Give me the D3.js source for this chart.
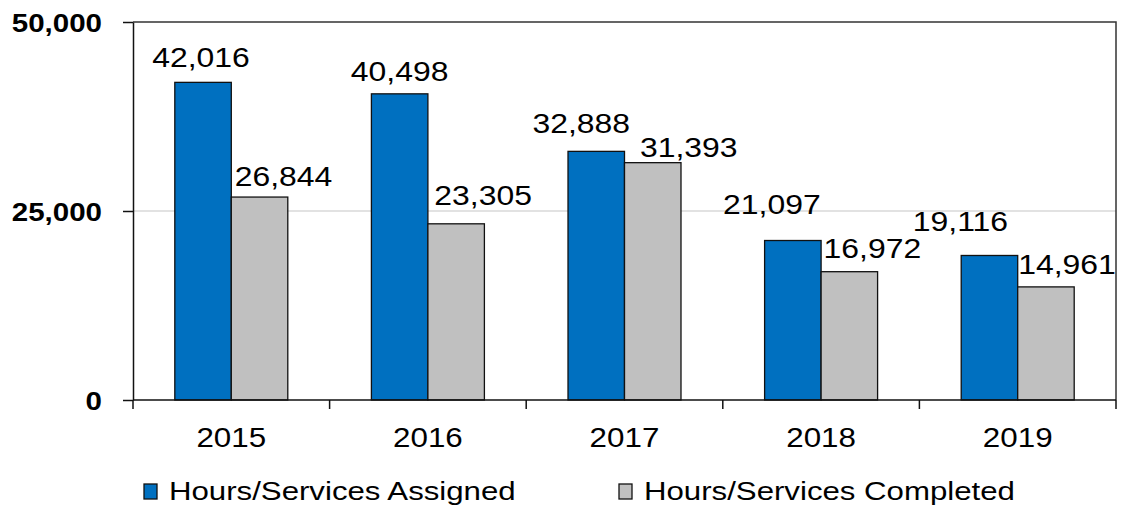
<!DOCTYPE html>
<html>
<head>
<meta charset="utf-8">
<script src="https://cdn.jsdelivr.net/npm/d3@7"></script>
<style>
  html, body { margin: 0; padding: 0; background: #fff; }
  svg { display: block; font-family: "Liberation Sans", Arial, sans-serif; }
</style>
</head>
<body>
<svg id="chart" width="1122" height="507"></svg>
<script>
// Yearly hours/services
const years = ["2015", "2016", "2017", "2018", "2019"];
const assigned = [42016, 40498, 32888, 21097, 19116];
const completed = [26844, 23305, 31393, 16972, 14961];
const seriesNames = ["Hours/Services Assigned", "Hours/Services Completed"];
const yTicks = [0, 25000, 50000];

// Label nudges (dx, dy from bar-top centre) so neighbouring labels don't collide
const assignedLabelDx = [-2, 0, -15, -21, -29];
const assignedLabelDy = [-25, -23, -28, -37, -35];
const completedLabelDx = [24, 27, 36, 23, 21];
const completedLabelDy = [-21, -29, -16, -24, -23];

const colors = ["#0070C0", "#C0C0C0"];

const svg = d3.select("#chart");
const margin = { left: 133, right: 1116, top: 22, bottom: 400 };

const x0 = d3.scaleBand().domain(years).range([margin.left, margin.right]).padding(0);
const x1 = d3.scaleBand().domain([0, 1]).range([0, x0.bandwidth()])
  .paddingInner(0).paddingOuter(0.74);
const y = d3.scaleLinear().domain([0, 50000]).range([margin.bottom, margin.top]);

const fmt = d3.format(",");

// Gridline at 25,000
svg.append("g")
  .selectAll("line")
  .data(yTicks.filter(t => t > 0 && t < 50000))
  .join("line")
  .attr("x1", margin.left).attr("x2", margin.right)
  .attr("y1", d => y(d)).attr("y2", d => y(d))
  .attr("stroke", "#d9d9d9").attr("stroke-width", 1.3);

// Plot frame (top and right)
svg.append("path")
  .attr("d", `M${margin.left},${margin.top}H${margin.right}V${margin.bottom}`)
  .attr("fill", "none").attr("stroke", "#333").attr("stroke-width", 1.5);

// Bars
const rows = years.map((yr, i) => ({ yr, vals: [assigned[i], completed[i]] }));
const groups = svg.append("g").selectAll("g")
  .data(rows).join("g")
  .attr("transform", d => `translate(${x0(d.yr)},0)`);

groups.selectAll("rect")
  .data(d => d.vals.map((v, k) => ({ v, k })))
  .join("rect")
  .attr("x", d => x1(d.k))
  .attr("width", x1.bandwidth())
  .attr("y", d => y(d.v))
  .attr("height", d => y(0) - y(d.v))
  .attr("fill", d => colors[d.k])
  .attr("stroke", "#111").attr("stroke-width", 1.3);

// Y axis
const yAxis = svg.append("g")
  .attr("transform", `translate(${margin.left},0)`)
  .call(d3.axisLeft(y).tickValues(yTicks).tickSize(10).tickSizeOuter(0).tickFormat(() => ""));
yAxis.selectAll("path, line").attr("stroke", "#111").attr("stroke-width", 1.5);

// X axis with category-boundary ticks
const xAxis = svg.append("g")
  .attr("transform", `translate(0,${margin.bottom})`);
xAxis.append("line")
  .attr("x1", margin.left).attr("x2", margin.right)
  .attr("stroke", "#111").attr("stroke-width", 1.5);
const boundaries = years.map(yr => x0(yr)).concat([x0(years[years.length - 1]) + x0.bandwidth()]);
xAxis.selectAll("line.tick")
  .data(boundaries).join("line").attr("class", "tick")
  .attr("x1", d => d).attr("x2", d => d)
  .attr("y1", 0).attr("y2", 9)
  .attr("stroke", "#111").attr("stroke-width", 1.5);

// Text helper: Excel-style wide glyphs
function stretchedText(parent, x, yy, str, opts) {
  return parent.append("text")
    .attr("transform", `translate(${x},${yy}) scale(${opts.sx},1)`)
    .attr("text-anchor", opts.anchor || "middle")
    .attr("dy", "0.36em")
    .attr("font-size", opts.size)
    .attr("font-weight", opts.weight || "normal")
    .attr("fill", "#000")
    .text(str);
}

// Y tick labels
const yLabels = svg.append("g");
yTicks.forEach(t => stretchedText(yLabels, 102, y(t) + 0.5, fmt(t),
  { sx: 1.18, size: 25, weight: "bold", anchor: "end" }));

// Year labels
const xLabels = svg.append("g");
years.forEach(yr => stretchedText(xLabels, x0(yr) + x0.bandwidth() / 2, 437, yr,
  { sx: 1.12, size: 28 }));

// Value labels
const valueLabels = svg.append("g");
years.forEach((yr, i) => {
  const bx = x0(yr);
  stretchedText(valueLabels,
    bx + x1(0) + x1.bandwidth() / 2 + assignedLabelDx[i],
    y(assigned[i]) + assignedLabelDy[i], fmt(assigned[i]), { sx: 1.14, size: 28 });
  stretchedText(valueLabels,
    bx + x1(1) + x1.bandwidth() / 2 + completedLabelDx[i],
    y(completed[i]) + completedLabelDy[i], fmt(completed[i]), { sx: 1.14, size: 28 });
});

// Legend
const legend = svg.append("g");
const legendX = [144, 619];
seriesNames.forEach((name, k) => {
  legend.append("rect")
    .attr("x", legendX[k]).attr("y", 484)
    .attr("width", 13).attr("height", 15)
    .attr("fill", colors[k]).attr("stroke", "#111").attr("stroke-width", 1.3);
  stretchedText(legend, legendX[k] + 25, 491, name,
    { sx: 1.2, size: 26, anchor: "start" });
});
</script>
</body>
</html>
